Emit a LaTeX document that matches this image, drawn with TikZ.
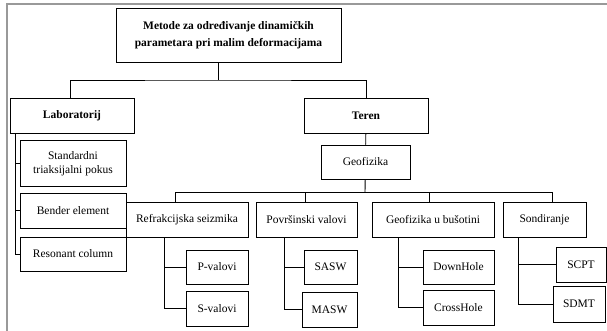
\documentclass[tikz,border=0pt]{standalone}
\usepackage{fontspec}
\setmainfont{Liberation Serif}
\usetikzlibrary{positioning}
\definecolor{framegray}{HTML}{999999}
\tikzset{
  box/.style={draw,line width=0.9pt,inner sep=0pt,align=center,
    font=\fontsize{11.5}{14}\selectfont},
  boldbox/.style={box,font=\fontsize{11.5}{17}\selectfont\bfseries},
  link/.style={line width=0.9pt}
}
\begin{document}
\begin{tikzpicture}[x=1pt,y=-1pt]
        \useasboundingbox(0,0)rectangle(607,331);
        \draw[framegray,line width=2pt](6.5,331)--(6.5,4.5)--(607,4.5);
        % korijen i prva razina
        \node[boldbox,minimum width=225,minimum height=54](top)at(228.5,35)
          {Metode za određivanje dinamičkih\\parametara pri malim deformacijama};
        \node[boldbox,minimum width=124,minimum height=35](lab)at(72,115.5){Laboratorij};
        \node[boldbox,minimum width=124,minimum height=35](teren)at(366,115.5){Teren};
        \coordinate(bus1)at(218,80);
        \draw[link](top.south-|bus1)--(bus1);
        \draw[link]([xshift=-2pt]lab.north)|-(bus1)-|(teren.north);
        % laboratorij
        \node[box,minimum width=106,minimum height=46](std)at(73,163.5)
          {Standardni\\triaksijalni pokus};
        \node[box,minimum width=106,minimum height=35](bender)at(73,210.5){Bender element};
        \node[box,minimum width=106,minimum height=34](reson)at(73,254){Resonant column};
        \draw[link]([xshift=-57pt]lab.south)|-(std.west);
        \draw[link]([xshift=-57pt]lab.south)|-(bender.west);
        \draw[link]([xshift=-57pt]lab.south)|-(reson.west);
        % teren
        \node[box,minimum width=89,minimum height=34](geo)at(365.5,162){Geofizika};
        \draw[link](teren)--(geo);
        \coordinate(bus2)at(365,192);
        \draw[link](geo)--(bus2);
        \node[box,minimum width=122,minimum height=35](refr)at(187,219.5){Refrakcijska seizmika};
        \node[box,minimum width=101,minimum height=35](povr)at(306.5,219.5){Površinski valovi};
        \node[box,minimum width=122,minimum height=35](busot)at(433,219.5){Geofizika u bušotini};
        \node[box,minimum width=83,minimum height=35](sond)at(544.5,219.5){Sondiranje};
        \draw[link]([xshift=-12pt]refr.north)|-(bus2);
        \draw[link]([xshift=-1.5pt]povr.north)|-(bus2);
        \draw[link]([xshift=-4pt]busot.north)|-(bus2);
        \draw[link]([xshift=7.5pt]sond.north)|-(bus2);
        % listovi
        \node[box,minimum width=62,minimum height=34](pval)at(217,267){P-valovi};
        \node[box,minimum width=62,minimum height=35](sval)at(217,308.5){S-valovi};
        \draw[link]([xshift=-23pt]refr.south)|-(pval.west);
        \draw[link]([xshift=-23pt]refr.south)|-(sval.west);
        \node[box,minimum width=53,minimum height=34](sasw)at(330.5,267){SASW};
        \node[box,minimum width=55,minimum height=35](masw)at(329.5,309.5){MASW};
        \draw[link]([xshift=-22.5pt]povr.south)|-(sasw.west);
        \draw[link]([xshift=-22.5pt]povr.south)|-(masw.west);
        \node[box,minimum width=71,minimum height=34](down)at(458.5,267){DownHole};
        \node[box,minimum width=71,minimum height=35](cross)at(458.5,307.5){CrossHole};
        \draw[link]([xshift=-35pt]busot.south)|-(down.west);
        \draw[link]([xshift=-35pt]busot.south)|-(cross.west);
        \node[box,minimum width=50,minimum height=35](scpt)at(581,264.5){SCPT};
        \node[box,minimum width=52,minimum height=36](sdmt)at(579,304){SDMT};
        \draw[link]([xshift=-26.5pt]sond.south)|-(scpt.west);
        \draw[link]([xshift=-26.5pt]sond.south)|-(sdmt.west);
      \end{tikzpicture}
\end{document}
